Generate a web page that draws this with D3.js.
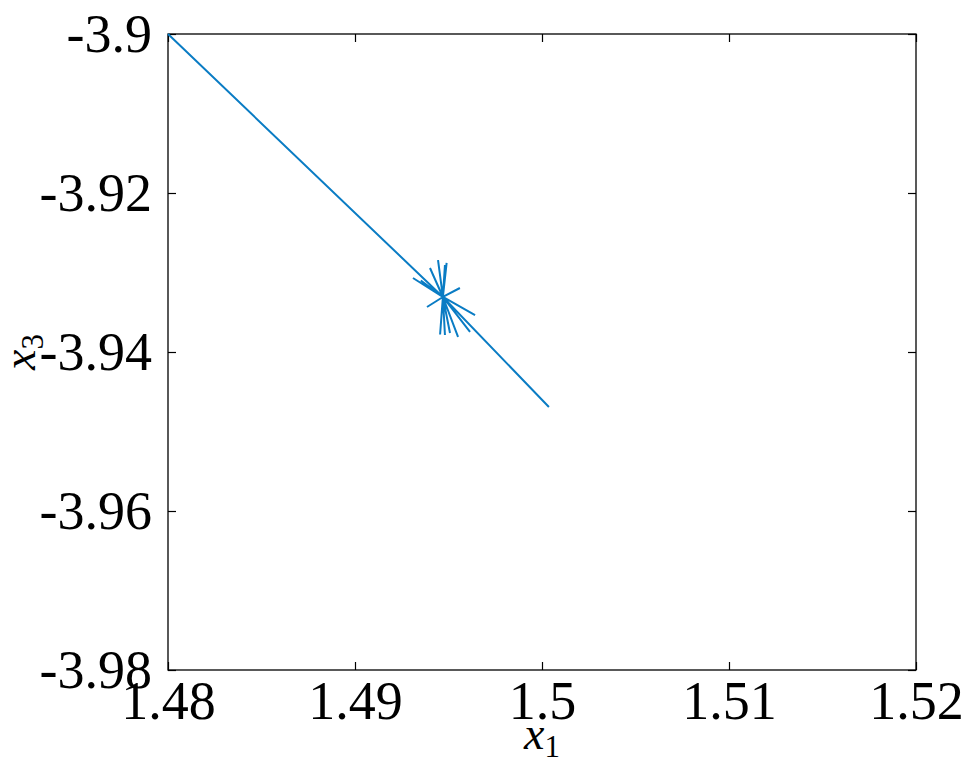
<!DOCTYPE html>
<html>
<head>
<meta charset="utf-8">
<script src="https://cdn.jsdelivr.net/npm/d3@7"></script>
<style>
  html, body { margin: 0; padding: 0; background: #fff; }
  svg { display: block; }
  svg text { font-family: "Liberation Serif", "Times New Roman", Times, serif !important; }
</style>
</head>
<body>
<svg id="chart"></svg>
<script>
// trajectory x1 values (start, then through the star around the fixed point, end)
const x1Values = [1.48, 1.4947, 1.49444, 1.4947, 1.49481, 1.4947, 1.49310, 1.4947, 1.49642, 1.4947,
  1.49561, 1.4947, 1.49385, 1.4947, 1.49401, 1.4947, 1.49551, 1.4947, 1.49481, 1.4947,
  1.49508, 1.4947, 1.49615, 1.4947, 1.49455, 1.4947, 1.49352, 1.4947, 1.49490, 1.4947, 1.50037];
const x3Values = [-3.9, -3.93308, -3.92843, -3.93308, -3.93786, -3.93308, -3.93069, -3.93308, -3.93535, -3.93308,
  -3.93195, -3.93308, -3.93434, -3.93308, -3.92943, -3.93308, -3.93811, -3.93308, -3.92906, -3.93308,
  -3.93761, -3.93308, -3.93748, -3.93308, -3.93780, -3.93308, -3.93100, -3.93308, -3.92880, -3.93308, -3.94692];
const xTicks = [1.48, 1.49, 1.5, 1.51, 1.52];
const yTicks = [-3.9, -3.92, -3.94, -3.96, -3.98];

(() => {
  const width = 967, height = 781;
  const left = 168, right = 916, top = 34, bottom = 670;
  const serif = '"Liberation Serif", "Times New Roman", Times, serif';

  const svg = d3.select('#chart')
    .attr('width', width)
    .attr('height', height);

  const x = d3.scaleLinear().domain([1.48, 1.52]).range([left, right]);
  const y = d3.scaleLinear().domain([-3.98, -3.9]).range([bottom, top]);

  const fmt = d => String(d);
  const tickLen = 8;

  // inward ticks on all four sides, like matlab
  const axes = [
    d3.axisBottom(x).tickValues(xTicks).tickFormat(fmt).tickSizeInner(-tickLen).tickSizeOuter(0).tickPadding(16),
    d3.axisTop(x).tickValues(xTicks).tickFormat('').tickSizeInner(-tickLen).tickSizeOuter(0),
    d3.axisLeft(y).tickValues(yTicks).tickFormat(fmt).tickSizeInner(-tickLen).tickSizeOuter(0).tickPadding(16),
    d3.axisRight(y).tickValues(yTicks).tickFormat('').tickSizeInner(-tickLen).tickSizeOuter(0)
  ];
  const shifts = [[0, bottom], [0, top], [left, 0], [right, 0]];

  axes.forEach((ax, i) => {
    const g = svg.append('g')
      .attr('transform', `translate(${shifts[i][0]},${shifts[i][1]})`)
      .call(ax)
      .attr('font-family', serif)
      .attr('font-size', 54);
    g.select('.domain').remove();
    g.selectAll('line').attr('stroke', '#000').attr('stroke-width', 1.2);
    g.selectAll('text').attr('fill', '#000');
    if (i === 0) g.selectAll('text').attr('dy', '0.62em');
  });

  svg.append('rect')
    .attr('x', left).attr('y', top)
    .attr('width', right - left).attr('height', bottom - top)
    .attr('fill', 'none')
    .attr('stroke', '#000')
    .attr('stroke-width', 1.3);

  const pts = x1Values.map((v, i) => [v, x3Values[i]]);
  svg.append('path')
    .datum(pts)
    .attr('fill', 'none')
    .attr('stroke', '#0a7cc4')
    .attr('stroke-width', 2)
    .attr('stroke-linejoin', 'bevel')
    .attr('d', d3.line().x(d => x(d[0])).y(d => y(d[1])));

  // axis labels
  const xl = svg.append('text')
    .attr('x', (left + right) / 2)
    .attr('y', 749)
    .attr('text-anchor', 'middle')
    .attr('font-family', serif)
    .attr('font-size', 46);
  xl.append('tspan').attr('font-style', 'italic').text('x');
  xl.append('tspan').attr('dy', 8).attr('font-size', 31).text('1');

  const yl = svg.append('text')
    .attr('transform', `translate(35,${(top + bottom) / 2}) rotate(-90)`)
    .attr('text-anchor', 'middle')
    .attr('font-family', serif)
    .attr('font-size', 46);
  yl.append('tspan').attr('font-style', 'italic').text('x');
  yl.append('tspan').attr('dy', 8).attr('font-size', 31).text('3');
})();
</script>
</body>
</html>
